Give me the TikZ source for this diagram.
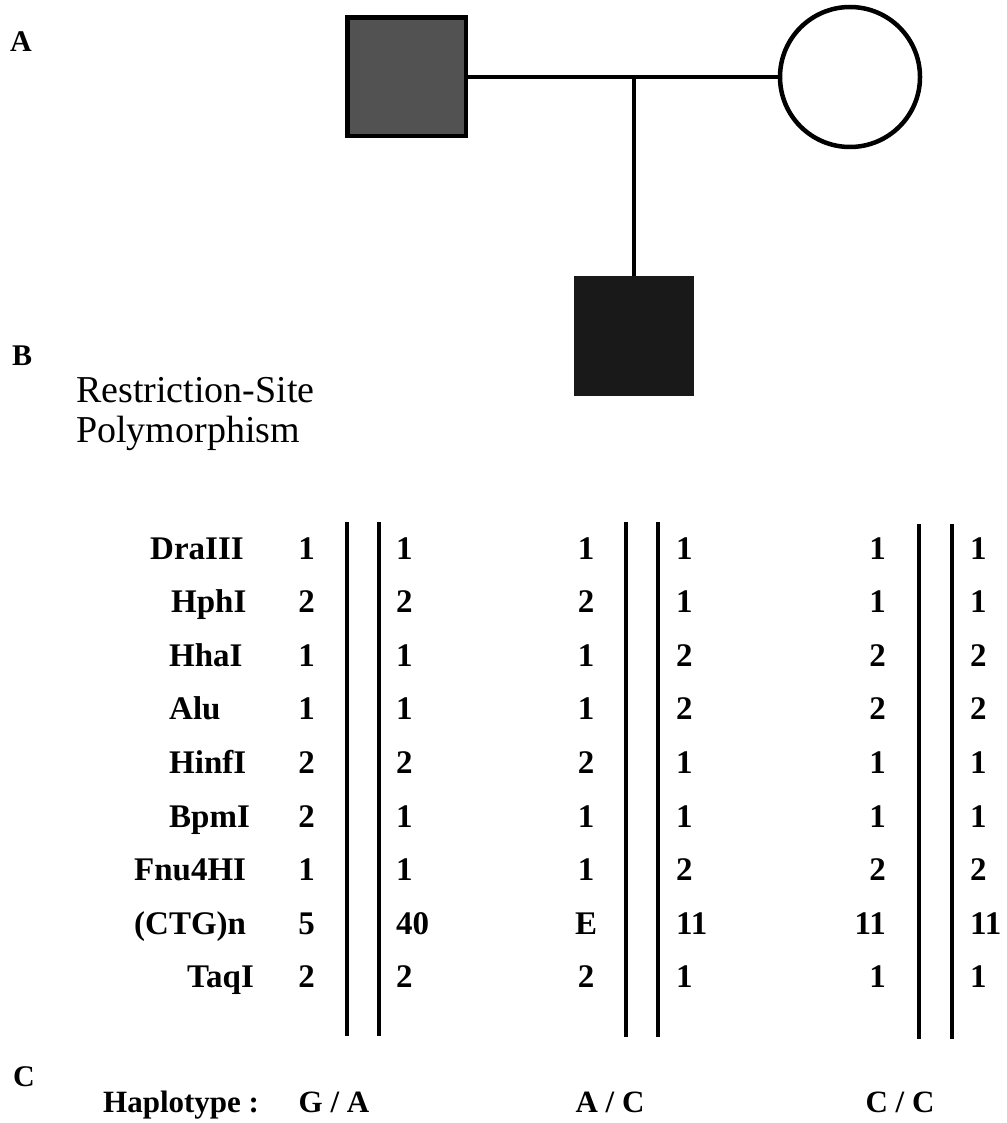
\documentclass[tikz,border=0pt]{standalone}
\usepackage{fontspec}
\setmainfont{Liberation Serif}
\begin{document}
\begin{tikzpicture}[x=1pt,y=-1pt,
  panel/.style={font=\fontsize{30}{34}\selectfont\bfseries, inner sep=0pt, anchor=base west},
  enz/.style={font=\fontsize{33}{38}\selectfont\bfseries, inner sep=0pt, anchor=base west},
  num/.style={font=\fontsize{33}{38}\selectfont\bfseries, inner sep=0pt},
  title/.style={font=\fontsize{38}{40}\selectfont, inner sep=0pt, anchor=base west},
  hap/.style={font=\fontsize{31}{36}\selectfont\bfseries, inner sep=0pt},
  ped/.style={line width=4.5pt},
  bar/.style={line width=4.5pt}]
\useasboundingbox[fill=white] (0,0) rectangle (1006,1123);

% Panel labels
\node[panel] (labA) at (10,52) {A};
\node[panel] (labB) at (12,365) {B};
\node[panel] (labC) at (13,1086) {C};

% Pedigree
\node[draw, ped, fill=black!68, minimum size=118.5pt, inner sep=0pt] (father) at (406.5,77) {};
\node[draw, ped, circle, fill=white, minimum size=140pt, inner sep=0pt] (mother) at (850,77) {};
\node[draw=black!90, fill=black!90, minimum size=119pt, inner sep=0pt] (child) at (634,336) {};
\coordinate (mid) at (634,77);
\draw[ped] (father.east) -- (mother.west);
\draw[ped] (mid) -- (child.north);

% Title
\node[title] (t1) at (76,402) {Restriction-Site};
\node[title] (t2) at (76,442) {Polymorphism};

% Chromosome bars
\draw[bar] (347,522) -- (347,1036);
\draw[bar] (379,522) -- (379,1036);
\draw[bar] (626,522) -- (626,1037);
\draw[bar] (658,522) -- (658,1037);
\draw[bar] (919,524) -- (919,1039);
\draw[bar] (952,524) -- (952,1039);

% Rows
\foreach \lab/\lx/\ca/\cb/\cc/\cd/\ce/\cf [count=\i] in {
  DraIII/150/1/1/1/1/1/1,
  HphI/171/2/2/2/1/1/1,
  HhaI/169/1/1/1/2/2/2,
  Alu/169/1/1/1/2/2/2,
  HinfI/169/2/2/2/1/1/1,
  BpmI/169/2/1/1/1/1/1,
  Fnu4HI/134/1/1/1/2/2/2,
  {(CTG)n}/134/5/40/E/11/11/11,
  TaqI/187/2/2/2/1/1/1}
{
  \pgfmathsetmacro{\yy}{559+53.6*(\i-1)}
  \node[enz] (enz\i) at (\lx,\yy) {\lab};
  \node[num, anchor=base east] (p\i) at (315,\yy) {\ca};
  \node[num, anchor=base west] (q\i) at (396,\yy) {\cb};
  \node[num, anchor=base] (r\i) at (586,\yy) {\cc};
  \node[num, anchor=base west] (s\i) at (676,\yy) {\cd};
  \node[num, anchor=base east] (u\i) at (886,\yy) {\ce};
  \node[num, anchor=base west] (v\i) at (970,\yy) {\cf};
}

% Haplotypes
\node[hap, anchor=base west] (hlab) at (103,1112) {Haplotype :};
\node[hap, anchor=base] (h1) at (334,1112) {G / A};
\node[hap, anchor=base] (h2) at (610,1112) {A / C};
\node[hap, anchor=base] (h3) at (900,1112) {C / C};
\end{tikzpicture}
\end{document}
